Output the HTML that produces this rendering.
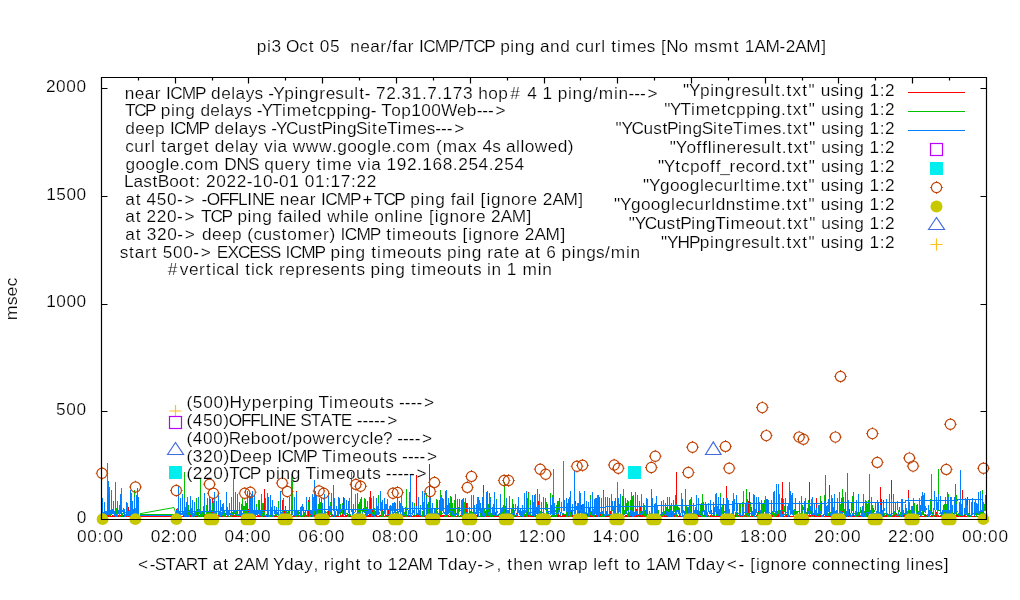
<!DOCTYPE html><html><head><meta charset="utf-8"><style>html,body{margin:0;padding:0;background:#fff;overflow:hidden;}svg{display:block;}text{font-family:"Liberation Sans",sans-serif;font-size:16.30px;fill:#000;white-space:pre;stroke:#fff;stroke-width:0.2px;}</style></head><body>
<svg width="1020" height="600" viewBox="0 0 1020 600">
<rect width="1020" height="600" fill="#fff"/>
<path d="M101.5 519.5v-6M138.5 519.5v-3M175.5 519.5v-6M212.5 519.5v-3M248.5 519.5v-6M285.5 519.5v-3M322.5 519.5v-6M359.5 519.5v-3M396.5 519.5v-6M433.5 519.5v-3M470.5 519.5v-6M507.5 519.5v-3M544.5 519.5v-6M580.5 519.5v-3M617.5 519.5v-6M654.5 519.5v-3M691.5 519.5v-6M728.5 519.5v-3M765.5 519.5v-6M802.5 519.5v-3M838.5 519.5v-6M875.5 519.5v-3M912.5 519.5v-6M949.5 519.5v-3M986.5 519.5v-6" fill="none" stroke="#000" stroke-width="1.2"/>
<path d="M102.5 517V512M103.5 517V516M104.5 517V515M105.5 517V516M106.5 517V515M107.5 517V515M108.5 517V515M109.5 517V516M110.5 517V515M111.5 517V516M112.5 517V515M113.5 517V515M114.5 517V515M115.5 517V516M116.5 517V516M117.5 517V516M118.5 517V515M119.5 517V515M120.5 517V515M121.5 517V500M122.5 517V515M123.5 517V515M124.5 517V515M125.5 517V516M126.5 517V516M127.5 517V515M128.5 517V507M129.5 517V516M130.5 517V516M131.5 517V516M132.5 517V515M133.5 517V514M134.5 517V511M135.5 517V515M136.5 517V510M137.5 517V515M138.5 517V516M176.5 517V509M177.5 517V516M178.5 517V516M179.5 517V516M180.5 517V515M181.5 517V516M182.5 517V516M183.5 517V515M184.5 517V492M185.5 517V515M186.5 517V516M187.5 517V515M188.5 517V516M189.5 517V515M190.5 517V515M191.5 517V516M192.5 517V516M193.5 517V516M194.5 517V507M195.5 517V516M196.5 517V515M197.5 517V509M198.5 517V516M199.5 517V515M200.5 517V515M201.5 517V515M202.5 517V515M203.5 517V515M204.5 517V515M205.5 517V515M206.5 517V515M207.5 517V515M208.5 517V516M209.5 517V510M210.5 517V513M211.5 517V515M212.5 517V498M213.5 517V515M214.5 517V497M215.5 517V516M216.5 517V515M217.5 517V516M218.5 517V515M219.5 517V515M220.5 517V515M221.5 517V516M222.5 517V516M223.5 517V515M224.5 517V516M225.5 517V515M226.5 517V516M227.5 517V515M228.5 517V516M229.5 517V516M230.5 517V515M231.5 517V515M232.5 517V516M233.5 517V516M234.5 517V515M235.5 517V515M236.5 517V516M237.5 517V515M238.5 517V515M239.5 517V516M240.5 517V515M241.5 517V515M242.5 517V515M243.5 517V515M244.5 517V515M245.5 517V515M246.5 517V516M247.5 517V515M248.5 517V509M249.5 517V516M250.5 517V515M251.5 517V516M252.5 517V515M253.5 517V515M254.5 517V515M255.5 517V516M256.5 517V516M257.5 517V516M258.5 517V515M259.5 517V516M260.5 517V515M261.5 517V497M262.5 517V515M263.5 517V516M264.5 517V489M265.5 517V515M266.5 517V515M267.5 517V515M268.5 517V515M269.5 517V515M270.5 517V516M271.5 517V515M272.5 517V516M273.5 517V516M274.5 517V515M275.5 517V515M276.5 517V515M277.5 517V516M278.5 517V515M279.5 517V516M280.5 517V516M281.5 517V515M282.5 517V500M283.5 517V515M284.5 517V511M285.5 517V506M286.5 517V515M287.5 517V516M288.5 517V515M289.5 517V515M290.5 517V515M291.5 517V515M292.5 517V516M293.5 517V515M294.5 517V516M295.5 517V515M296.5 517V491M297.5 517V515M298.5 517V515M299.5 517V516M300.5 517V515M301.5 517V515M302.5 517V515M303.5 517V515M304.5 517V516M305.5 517V515M306.5 517V515M307.5 517V516M308.5 517V500M309.5 517V515M310.5 517V511M311.5 517V513M312.5 517V514M313.5 517V516M314.5 517V515M315.5 517V515M316.5 517V515M317.5 517V516M318.5 517V516M319.5 517V515M320.5 517V516M321.5 517V516M322.5 517V516M323.5 517V515M324.5 517V516M325.5 517V515M326.5 517V515M327.5 517V515M328.5 517V501M329.5 517V515M330.5 517V516M331.5 517V516M332.5 517V515M333.5 517V515M334.5 517V514M335.5 517V515M336.5 517V516M337.5 517V516M338.5 517V515M339.5 517V516M340.5 517V515M341.5 517V516M342.5 517V509M343.5 517V497M344.5 517V516M345.5 517V515M346.5 517V515M347.5 517V515M348.5 517V516M349.5 517V515M350.5 517V514M351.5 517V516M352.5 517V510M353.5 517V515M354.5 517V515M355.5 517V515M356.5 517V515M357.5 517V507M358.5 517V515M359.5 517V515M360.5 517V515M361.5 517V516M362.5 517V516M363.5 517V515M364.5 517V515M365.5 517V514M366.5 517V509M367.5 517V514M368.5 517V515M369.5 517V514M370.5 517V491M371.5 517V515M372.5 517V509M373.5 517V515M374.5 517V512M375.5 517V515M376.5 517V515M377.5 517V516M378.5 517V516M379.5 517V516M380.5 517V515M381.5 517V515M382.5 517V505M383.5 517V515M384.5 517V516M385.5 517V515M386.5 517V515M387.5 517V512M388.5 517V509M389.5 517V511M390.5 517V515M391.5 517V516M392.5 517V515M393.5 517V513M394.5 517V515M395.5 517V512M396.5 517V515M397.5 517V511M398.5 517V513M399.5 517V516M400.5 517V515M401.5 517V516M402.5 517V512M403.5 517V515M404.5 517V513M405.5 517V514M406.5 517V516M407.5 517V515M408.5 517V515M409.5 517V515M410.5 517V516M411.5 517V515M412.5 517V516M413.5 517V515M414.5 517V516M415.5 517V515M416.5 517V475M417.5 517V515M418.5 517V515M419.5 517V513M420.5 517V515M421.5 517V515M422.5 517V515M423.5 517V516M424.5 517V515M425.5 517V516M426.5 517V515M427.5 517V515M428.5 517V515M429.5 517V464M430.5 517V510M431.5 517V515M432.5 517V516M433.5 517V515M434.5 517V516M435.5 517V515M436.5 517V515M437.5 517V516M438.5 517V515M439.5 517V516M440.5 517V515M441.5 517V515M442.5 517V515M443.5 517V515M444.5 517V515M445.5 517V502M446.5 517V507M447.5 517V516M448.5 517V515M449.5 517V516M450.5 517V516M451.5 517V515M452.5 517V515M453.5 517V515M454.5 517V510M455.5 517V515M456.5 517V516M457.5 517V516M458.5 517V516M459.5 517V516M460.5 517V515M461.5 517V515M462.5 517V515M463.5 517V515M464.5 517V515M465.5 517V515M466.5 517V503M467.5 517V515M468.5 517V515M469.5 517V515M470.5 517V515M471.5 517V515M472.5 517V515M473.5 517V515M474.5 517V515M475.5 517V515M476.5 517V515M477.5 517V515M478.5 517V515M479.5 517V516M480.5 517V515M481.5 517V515M482.5 517V516M483.5 517V485M484.5 517V513M485.5 517V516M486.5 517V513M487.5 517V515M488.5 517V515M489.5 517V516M490.5 517V515M491.5 517V516M492.5 517V515M493.5 517V516M494.5 517V504M495.5 517V512M496.5 517V515M497.5 517V515M498.5 517V516M499.5 517V516M500.5 517V515M501.5 517V516M502.5 517V516M503.5 517V515M504.5 517V516M505.5 517V511M506.5 517V515M507.5 517V516M508.5 517V516M509.5 517V515M510.5 517V516M511.5 517V515M512.5 517V516M513.5 517V508M514.5 517V516M515.5 517V515M516.5 517V513M517.5 517V510M518.5 517V516M519.5 517V516M520.5 517V516M521.5 517V516M522.5 517V514M523.5 517V515M524.5 517V515M525.5 517V515M526.5 517V512M527.5 517V516M528.5 517V492M529.5 517V516M530.5 517V516M531.5 517V515M532.5 517V515M533.5 517V515M534.5 517V515M535.5 517V511M536.5 517V516M537.5 517V516M538.5 517V501M539.5 517V515M540.5 517V516M541.5 517V516M542.5 517V515M543.5 517V515M544.5 517V516M545.5 517V515M546.5 517V509M547.5 517V514M548.5 517V515M549.5 517V516M550.5 517V516M551.5 517V515M552.5 517V515M553.5 517V512M554.5 517V516M555.5 517V515M556.5 517V515M557.5 517V515M558.5 517V514M559.5 517V515M560.5 517V516M561.5 517V516M562.5 517V515M563.5 517V514M564.5 517V515M565.5 517V515M566.5 517V515M567.5 517V515M568.5 517V515M569.5 517V515M570.5 517V516M571.5 517V510M572.5 517V514M573.5 517V515M574.5 517V515M575.5 517V501M576.5 517V515M577.5 517V515M578.5 517V516M579.5 517V511M580.5 517V515M581.5 517V505M582.5 517V515M583.5 517V512M584.5 517V515M585.5 517V512M586.5 517V516M587.5 517V515M588.5 517V516M589.5 517V507M590.5 517V515M591.5 517V515M592.5 517V510M593.5 517V516M594.5 517V516M595.5 517V515M596.5 517V515M597.5 517V516M598.5 517V515M599.5 517V516M600.5 517V513M601.5 517V515M602.5 517V515M603.5 517V490M604.5 517V516M605.5 517V515M606.5 517V515M607.5 517V515M608.5 517V515M609.5 517V516M610.5 517V511M611.5 517V516M612.5 517V515M613.5 517V515M614.5 517V515M615.5 517V515M616.5 517V516M617.5 517V515M618.5 517V516M619.5 517V515M620.5 517V515M621.5 517V515M622.5 517V512M623.5 517V513M624.5 517V516M625.5 517V515M626.5 517V515M627.5 517V516M628.5 517V515M629.5 517V516M630.5 517V516M631.5 517V515M632.5 517V515M633.5 517V516M634.5 517V513M635.5 517V515M636.5 517V509M637.5 517V515M638.5 517V515M639.5 517V515M640.5 517V507M641.5 517V516M642.5 517V515M643.5 517V515M644.5 517V516M645.5 517V516M646.5 517V515M647.5 517V516M648.5 517V516M649.5 517V515M650.5 517V515M651.5 517V510M652.5 517V515M653.5 517V515M654.5 517V515M655.5 517V515M656.5 517V515M657.5 517V513M658.5 517V516M659.5 517V516M660.5 517V516M661.5 517V516M662.5 517V516M663.5 517V515M664.5 517V515M665.5 517V515M666.5 517V515M667.5 517V515M668.5 517V516M669.5 517V511M670.5 517V516M671.5 517V509M672.5 517V515M673.5 517V515M674.5 517V514M675.5 517V515M676.5 517V472M677.5 517V515M678.5 517V516M679.5 517V515M680.5 517V515M681.5 517V516M682.5 517V504M683.5 517V516M684.5 517V516M685.5 517V516M686.5 517V515M687.5 517V515M688.5 517V511M689.5 517V515M690.5 517V513M691.5 517V515M692.5 517V515M693.5 517V511M694.5 517V515M695.5 517V514M696.5 517V515M697.5 517V516M698.5 517V501M699.5 517V512M700.5 517V516M701.5 517V515M702.5 517V515M703.5 517V515M704.5 517V515M705.5 517V515M706.5 517V516M707.5 517V515M708.5 517V515M709.5 517V516M710.5 517V515M711.5 517V510M712.5 517V515M713.5 517V515M714.5 517V510M715.5 517V516M716.5 517V515M717.5 517V516M718.5 517V516M719.5 517V515M720.5 517V507M721.5 517V515M722.5 517V515M723.5 517V513M724.5 517V515M725.5 517V515M726.5 517V486M727.5 517V510M728.5 517V515M729.5 517V515M730.5 517V516M731.5 517V515M732.5 517V516M733.5 517V515M734.5 517V515M735.5 517V515M736.5 517V510M737.5 517V516M738.5 517V515M739.5 517V515M740.5 517V509M741.5 517V515M742.5 517V512M743.5 517V515M744.5 517V515M745.5 517V515M746.5 517V516M747.5 517V515M748.5 517V501M749.5 517V492M750.5 517V516M751.5 517V516M752.5 517V516M753.5 517V516M754.5 517V516M755.5 517V516M756.5 517V515M757.5 517V515M758.5 517V510M759.5 517V516M760.5 517V515M761.5 517V515M762.5 517V516M763.5 517V509M764.5 517V516M765.5 517V516M766.5 517V516M767.5 517V515M768.5 517V516M769.5 517V515M770.5 517V515M771.5 517V515M772.5 517V515M773.5 517V515M774.5 517V516M775.5 517V515M776.5 517V509M777.5 517V515M778.5 517V498M779.5 517V515M780.5 517V516M781.5 517V515M782.5 517V482M783.5 517V515M784.5 517V516M785.5 517V515M786.5 517V515M787.5 517V513M788.5 517V513M789.5 517V516M790.5 517V516M791.5 517V516M792.5 517V516M793.5 517V515M794.5 517V516M795.5 517V516M796.5 517V515M797.5 517V516M798.5 517V516M799.5 517V515M800.5 517V516M801.5 517V515M802.5 517V515M803.5 517V515M804.5 517V515M805.5 517V516M806.5 517V515M807.5 517V516M808.5 517V515M809.5 517V482M810.5 517V515M811.5 517V515M812.5 517V515M813.5 517V515M814.5 517V510M815.5 517V515M816.5 517V498M817.5 517V515M818.5 517V516M819.5 517V516M820.5 517V515M821.5 517V516M822.5 517V515M823.5 517V515M824.5 517V516M825.5 517V515M826.5 517V516M827.5 517V516M828.5 517V515M829.5 517V485M830.5 517V515M831.5 517V513M832.5 517V516M833.5 517V516M834.5 517V516M835.5 517V515M836.5 517V516M837.5 517V516M838.5 517V516M839.5 517V515M840.5 517V515M841.5 517V515M842.5 517V510M843.5 517V515M844.5 517V515M845.5 517V515M846.5 517V516M847.5 517V515M848.5 517V516M849.5 517V509M850.5 517V515M851.5 517V515M852.5 517V515M853.5 517V515M854.5 517V515M855.5 517V516M856.5 517V516M857.5 517V515M858.5 517V516M859.5 517V515M860.5 517V515M861.5 517V515M862.5 517V515M863.5 517V511M864.5 517V516M865.5 517V515M866.5 517V515M867.5 517V516M868.5 517V516M869.5 517V515M870.5 517V515M871.5 517V515M872.5 517V515M873.5 517V515M874.5 517V515M875.5 517V515M876.5 517V515M877.5 517V511M878.5 517V515M879.5 517V512M880.5 517V487M881.5 517V499M882.5 517V515M883.5 517V500M884.5 517V515M885.5 517V515M886.5 517V515M887.5 517V515M888.5 517V515M889.5 517V515M890.5 517V516M891.5 517V480M892.5 517V516M893.5 517V510M894.5 517V515M895.5 517V509M896.5 517V514M897.5 517V515M898.5 517V515M899.5 517V516M900.5 517V516M901.5 517V510M902.5 517V516M903.5 517V513M904.5 517V515M905.5 517V515M906.5 517V515M907.5 517V515M908.5 517V490M909.5 517V515M910.5 517V515M911.5 517V515M912.5 517V515M913.5 517V516M914.5 517V516M915.5 517V516M916.5 517V515M917.5 517V514M918.5 517V516M919.5 517V516M920.5 517V515M921.5 517V516M922.5 517V516M923.5 517V516M924.5 517V516M925.5 517V515M926.5 517V515M927.5 517V516M928.5 517V516M929.5 517V516M930.5 517V516M931.5 517V515M932.5 517V515M933.5 517V515M934.5 517V515M935.5 517V515M936.5 517V512M937.5 517V516M938.5 517V515M939.5 517V516M940.5 517V516M941.5 517V515M942.5 517V515M943.5 517V515M944.5 517V515M945.5 517V515M946.5 517V515M947.5 517V516M948.5 517V515M949.5 517V515M950.5 517V510M951.5 517V516M952.5 517V515M953.5 517V513M954.5 517V515M955.5 517V516M956.5 517V515M957.5 517V515M958.5 517V515M959.5 517V516M960.5 517V515M961.5 517V515M962.5 517V490M963.5 517V515M964.5 517V515M965.5 517V516M966.5 517V516M967.5 517V497M968.5 517V516M969.5 517V516M970.5 517V515M971.5 517V511M972.5 517V516M973.5 517V516M974.5 517V516M975.5 517V516M976.5 517V516M977.5 517V516M978.5 517V516M979.5 517V515M980.5 517V513M981.5 517V515M982.5 517V515M983.5 517V515M984.5 517V516M985.5 517V515" stroke="#ff0000" stroke-width="1" fill="none" shape-rendering="crispEdges"/>
<path d="M102.5 516V515M103.5 515V512M104.5 516V503M105.5 517V511M106.5 517V516M107.5 512V463M108.5 515V514M109.5 517V487M110.5 516V513M111.5 515V490M112.5 514V513M113.5 516V515M114.5 516V515M115.5 516V499M116.5 517V508M117.5 517V501M118.5 513V512M119.5 517V505M120.5 517V516M121.5 514V488M122.5 517V513M123.5 514V508M124.5 516V515M125.5 517V514M126.5 513V506M127.5 517V503M128.5 513V512M129.5 517V510M130.5 515V514M131.5 516V493M132.5 514V501M133.5 517V515M134.5 517V490M135.5 515V508M136.5 516V512M137.5 515V499M138.5 516V505M176.5 515V513M177.5 517V511M178.5 517V506M179.5 515V512M180.5 516V512M181.5 515V513M182.5 514V504M183.5 515V512M184.5 511V472M185.5 512V507M186.5 516V515M187.5 512V497M188.5 516V505M189.5 517V510M190.5 515V500M191.5 513V508M192.5 515V513M193.5 516V514M194.5 517V506M195.5 516V515M196.5 515V498M197.5 515V513M198.5 517V507M199.5 513V509M200.5 517V478M201.5 516V512M202.5 517V512M203.5 516V509M204.5 515V514M205.5 515V514M206.5 517V505M207.5 514V511M208.5 516V512M209.5 516V515M210.5 516V506M211.5 515V513M212.5 511V503M213.5 517V501M214.5 517V505M215.5 514V512M216.5 516V501M217.5 516V515M218.5 515V503M219.5 517V516M220.5 516V502M221.5 516V512M222.5 516V514M223.5 517V503M224.5 517V511M225.5 517V513M226.5 514V511M227.5 516V512M228.5 517V512M229.5 517V516M230.5 517V516M231.5 517V504M232.5 516V512M233.5 512V478M234.5 514V513M235.5 516V494M236.5 516V510M237.5 517V505M238.5 516V515M239.5 512V502M240.5 513V511M241.5 517V511M242.5 511V498M243.5 514V512M244.5 516V506M245.5 515V510M246.5 515V503M247.5 517V504M248.5 515V514M249.5 514V513M250.5 515V513M251.5 516V494M252.5 517V504M253.5 516V512M254.5 513V507M255.5 516V512M256.5 511V504M257.5 515V514M258.5 512V500M259.5 516V500M260.5 516V512M261.5 516V513M262.5 517V503M263.5 516V513M264.5 515V512M265.5 516V515M266.5 515V514M267.5 515V494M268.5 511V499M269.5 517V515M270.5 517V511M271.5 512V507M272.5 514V513M273.5 517V516M274.5 516V515M275.5 516V511M276.5 516V507M277.5 515V513M278.5 511V501M279.5 517V516M280.5 517V508M281.5 517V516M282.5 514V511M283.5 515V508M284.5 517V516M285.5 517V516M286.5 517V511M287.5 517V513M288.5 516V511M289.5 517V516M290.5 517V514M291.5 513V474M292.5 515V476M293.5 516V515M294.5 516V500M295.5 515V513M296.5 517V503M297.5 512V511M298.5 516V510M299.5 517V515M300.5 517V510M301.5 515V506M302.5 517V515M303.5 517V515M304.5 516V512M305.5 517V511M306.5 517V516M307.5 517V511M308.5 511V502M309.5 517V516M310.5 517V515M311.5 515V511M312.5 517V509M313.5 517V497M314.5 515V503M315.5 514V513M316.5 516V515M317.5 516V515M318.5 516V504M319.5 517V516M320.5 515V502M321.5 517V516M322.5 515V513M323.5 514V513M324.5 515V508M325.5 516V512M326.5 513V512M327.5 516V515M328.5 516V515M329.5 515V506M330.5 515V502M331.5 514V513M332.5 517V516M333.5 516V515M334.5 515V507M335.5 515V511M336.5 516V515M337.5 516V514M338.5 514V512M339.5 517V516M340.5 515V504M341.5 516V515M342.5 514V503M343.5 516V513M344.5 515V508M345.5 515V511M346.5 514V513M347.5 517V516M348.5 517V514M349.5 514V498M350.5 516V515M351.5 512V506M352.5 516V515M353.5 513V507M354.5 517V516M355.5 511V494M356.5 517V516M357.5 513V511M358.5 516V504M359.5 517V515M360.5 517V499M361.5 515V514M362.5 517V509M363.5 517V514M364.5 513V498M365.5 517V515M366.5 515V507M367.5 516V515M368.5 512V511M369.5 514V502M370.5 514V513M371.5 514V498M372.5 516V512M373.5 515V496M374.5 515V508M375.5 517V516M376.5 514V513M377.5 515V506M378.5 515V495M379.5 514V512M380.5 517V516M381.5 516V502M382.5 517V511M383.5 517V516M384.5 512V503M385.5 516V504M386.5 517V516M387.5 516V499M388.5 517V516M389.5 517V506M390.5 517V513M391.5 511V506M392.5 515V511M393.5 511V503M394.5 516V515M395.5 517V507M396.5 513V512M397.5 515V502M398.5 515V511M399.5 512V509M400.5 515V514M401.5 512V496M402.5 516V511M403.5 512V508M404.5 516V512M405.5 513V512M406.5 517V489M407.5 517V516M408.5 516V514M409.5 514V507M410.5 516V513M411.5 516V515M412.5 515V505M413.5 513V512M414.5 516V503M415.5 517V516M416.5 515V507M417.5 516V514M418.5 514V513M419.5 516V515M420.5 511V505M421.5 517V516M422.5 517V511M423.5 517V502M424.5 515V513M425.5 516V515M426.5 512V493M427.5 517V510M428.5 517V502M429.5 515V506M430.5 517V515M431.5 517V508M432.5 517V511M433.5 515V513M434.5 516V512M435.5 517V509M436.5 517V499M437.5 517V511M438.5 517V516M439.5 516V505M440.5 515V490M441.5 516V495M442.5 514V513M443.5 512V499M444.5 517V516M445.5 517V513M446.5 517V511M447.5 517V507M448.5 512V510M449.5 515V514M450.5 516V496M451.5 517V513M452.5 517V503M453.5 517V516M454.5 517V500M455.5 517V516M456.5 515V514M457.5 512V510M458.5 517V507M459.5 512V510M460.5 517V516M461.5 517V507M462.5 516V500M463.5 517V511M464.5 517V502M465.5 517V512M466.5 515V514M467.5 517V503M468.5 514V513M469.5 517V507M470.5 516V511M471.5 517V495M472.5 516V512M473.5 516V515M474.5 517V509M475.5 516V512M476.5 513V511M477.5 515V497M478.5 517V514M479.5 511V500M480.5 517V511M481.5 516V509M482.5 517V515M483.5 516V509M484.5 517V508M485.5 517V515M486.5 516V502M487.5 517V516M488.5 516V504M489.5 516V513M490.5 517V497M491.5 516V514M492.5 517V510M493.5 515V504M494.5 516V513M495.5 516V515M496.5 513V499M497.5 513V512M498.5 516V515M499.5 514V513M500.5 515V513M501.5 515V509M502.5 517V512M503.5 517V514M504.5 516V482M505.5 517V515M506.5 516V515M507.5 517V510M508.5 516V514M509.5 515V503M510.5 516V513M511.5 517V516M512.5 517V499M513.5 515V514M514.5 517V515M515.5 516V515M516.5 515V514M517.5 517V516M518.5 512V499M519.5 514V513M520.5 517V511M521.5 516V514M522.5 515V506M523.5 517V516M524.5 516V514M525.5 513V510M526.5 517V498M527.5 517V515M528.5 512V493M529.5 517V515M530.5 516V500M531.5 513V512M532.5 516V509M533.5 511V502M534.5 517V516M535.5 511V494M536.5 516V515M537.5 512V508M538.5 515V513M539.5 516V494M540.5 516V511M541.5 516V515M542.5 517V516M543.5 515V500M544.5 517V515M545.5 517V516M546.5 515V502M547.5 512V507M548.5 516V514M549.5 512V511M550.5 511V493M551.5 516V515M552.5 517V495M553.5 516V469M554.5 517V512M555.5 514V513M556.5 517V505M557.5 515V514M558.5 513V501M559.5 517V516M560.5 513V512M561.5 513V502M562.5 515V514M563.5 511V461M564.5 515V514M565.5 515V514M566.5 517V502M567.5 517V503M568.5 513V510M569.5 517V497M570.5 517V512M571.5 517V514M572.5 514V509M573.5 511V510M574.5 516V514M575.5 517V504M576.5 517V516M577.5 517V503M578.5 516V514M579.5 511V491M580.5 512V510M581.5 516V509M582.5 516V515M583.5 515V513M584.5 512V509M585.5 517V512M586.5 516V509M587.5 515V513M588.5 517V503M589.5 515V512M590.5 515V495M591.5 516V513M592.5 516V504M593.5 516V509M594.5 517V513M595.5 514V498M596.5 514V513M597.5 515V495M598.5 513V511M599.5 516V511M600.5 517V516M601.5 516V509M602.5 517V513M603.5 516V507M604.5 517V516M605.5 516V505M606.5 516V515M607.5 515V503M608.5 516V515M609.5 513V512M610.5 516V514M611.5 513V510M612.5 511V505M613.5 516V507M614.5 517V516M615.5 517V498M616.5 514V513M617.5 511V482M618.5 517V516M619.5 512V504M620.5 517V516M621.5 517V516M622.5 515V496M623.5 515V489M624.5 514V510M625.5 514V513M626.5 513V503M627.5 516V513M628.5 517V501M629.5 516V514M630.5 516V500M631.5 515V512M632.5 517V496M633.5 516V505M634.5 513V512M635.5 516V515M636.5 515V513M637.5 513V509M638.5 517V516M639.5 515V502M640.5 515V511M641.5 516V494M642.5 515V514M643.5 514V508M644.5 516V505M645.5 517V513M646.5 517V510M647.5 515V499M648.5 517V516M649.5 517V514M650.5 517V516M651.5 513V489M652.5 516V505M653.5 516V515M654.5 515V512M655.5 515V503M656.5 517V512M657.5 516V506M658.5 515V510M659.5 516V515M660.5 516V514M661.5 517V503M662.5 516V512M663.5 517V500M664.5 515V511M665.5 516V515M666.5 516V507M667.5 516V515M668.5 515V509M669.5 516V515M670.5 515V506M671.5 516V515M672.5 516V515M673.5 516V514M674.5 512V505M675.5 517V512M676.5 517V504M677.5 517V516M678.5 513V507M679.5 515V513M680.5 514V513M681.5 512V493M682.5 515V514M683.5 513V510M684.5 516V515M685.5 517V514M686.5 514V506M687.5 517V516M688.5 515V509M689.5 517V512M690.5 515V499M691.5 512V511M692.5 515V513M693.5 513V504M694.5 517V515M695.5 516V507M696.5 516V512M697.5 516V511M698.5 515V503M699.5 516V515M700.5 515V505M701.5 517V511M702.5 517V494M703.5 517V516M704.5 517V513M705.5 513V502M706.5 516V513M707.5 516V512M708.5 517V516M709.5 517V516M710.5 514V513M711.5 516V515M712.5 516V515M713.5 513V512M714.5 516V512M715.5 512V494M716.5 516V514M717.5 515V506M718.5 513V512M719.5 512V509M720.5 515V493M721.5 514V511M722.5 514V504M723.5 517V514M724.5 513V511M725.5 515V512M726.5 513V512M727.5 516V498M728.5 517V510M729.5 516V509M730.5 517V514M731.5 515V514M732.5 515V511M733.5 515V493M734.5 517V516M735.5 514V512M736.5 517V512M737.5 511V504M738.5 517V516M739.5 515V514M740.5 515V504M741.5 517V516M742.5 513V502M743.5 517V491M744.5 517V516M745.5 517V505M746.5 516V489M747.5 517V499M748.5 517V513M749.5 517V515M750.5 512V502M751.5 515V514M752.5 516V515M753.5 511V494M754.5 517V513M755.5 515V509M756.5 517V516M757.5 516V512M758.5 517V512M759.5 511V506M760.5 515V512M761.5 517V503M762.5 515V503M763.5 517V516M764.5 512V500M765.5 516V496M766.5 515V514M767.5 516V512M768.5 515V514M769.5 513V512M770.5 514V513M771.5 516V508M772.5 515V512M773.5 517V509M774.5 517V513M775.5 517V511M776.5 516V504M777.5 516V512M778.5 514V509M779.5 517V494M780.5 516V511M781.5 517V508M782.5 511V510M783.5 515V499M784.5 512V506M785.5 517V515M786.5 515V514M787.5 515V506M788.5 516V515M789.5 516V515M790.5 512V511M791.5 514V495M792.5 515V505M793.5 517V512M794.5 515V509M795.5 516V502M796.5 516V511M797.5 517V511M798.5 512V511M799.5 514V502M800.5 514V513M801.5 517V513M802.5 517V505M803.5 515V514M804.5 517V515M805.5 516V515M806.5 517V512M807.5 517V508M808.5 512V500M809.5 515V502M810.5 514V511M811.5 517V499M812.5 517V516M813.5 517V513M814.5 513V512M815.5 516V510M816.5 514V511M817.5 517V516M818.5 516V511M819.5 515V510M820.5 515V496M821.5 517V515M822.5 517V516M823.5 517V516M824.5 512V495M825.5 517V516M826.5 515V513M827.5 516V505M828.5 516V513M829.5 511V507M830.5 515V512M831.5 515V495M832.5 513V512M833.5 514V507M834.5 515V509M835.5 512V511M836.5 512V511M837.5 515V498M838.5 515V513M839.5 516V502M840.5 513V504M841.5 515V514M842.5 511V489M843.5 517V514M844.5 517V509M845.5 517V514M846.5 513V512M847.5 517V516M848.5 515V501M849.5 517V516M850.5 517V513M851.5 517V515M852.5 511V496M853.5 515V510M854.5 514V513M855.5 517V511M856.5 517V501M857.5 517V516M858.5 516V506M859.5 515V514M860.5 513V507M861.5 516V512M862.5 515V514M863.5 516V498M864.5 514V511M865.5 517V511M866.5 517V501M867.5 516V511M868.5 516V500M869.5 513V474M870.5 517V510M871.5 517V511M872.5 517V505M873.5 513V511M874.5 512V510M875.5 517V513M876.5 517V516M877.5 516V500M878.5 517V512M879.5 515V512M880.5 517V516M881.5 515V512M882.5 517V514M883.5 512V507M884.5 516V513M885.5 514V513M886.5 515V506M887.5 517V513M888.5 517V515M889.5 517V494M890.5 517V516M891.5 517V499M892.5 516V515M893.5 514V512M894.5 515V511M895.5 516V513M896.5 514V513M897.5 516V514M898.5 516V510M899.5 516V514M900.5 517V512M901.5 515V499M902.5 515V507M903.5 515V512M904.5 515V514M905.5 517V504M906.5 516V512M907.5 516V511M908.5 515V502M909.5 516V502M910.5 515V510M911.5 516V506M912.5 516V511M913.5 515V512M914.5 517V503M915.5 516V515M916.5 517V505M917.5 514V513M918.5 516V511M919.5 515V498M920.5 516V515M921.5 511V496M922.5 515V510M923.5 515V495M924.5 516V514M925.5 513V506M926.5 517V516M927.5 515V514M928.5 516V507M929.5 517V512M930.5 515V499M931.5 512V474M932.5 516V512M933.5 517V508M934.5 517V516M935.5 515V514M936.5 515V514M937.5 517V502M938.5 511V469M939.5 514V513M940.5 516V515M941.5 515V514M942.5 517V513M943.5 515V509M944.5 516V504M945.5 513V512M946.5 516V504M947.5 517V515M948.5 517V494M949.5 517V516M950.5 512V498M951.5 514V497M952.5 515V512M953.5 516V515M954.5 517V514M955.5 516V515M956.5 515V495M957.5 512V511M958.5 516V513M959.5 517V512M960.5 516V515M961.5 516V504M962.5 516V510M963.5 517V516M964.5 515V512M965.5 516V498M966.5 514V512M967.5 517V505M968.5 517V513M969.5 516V515M970.5 517V516M971.5 517V502M972.5 515V509M973.5 514V513M974.5 514V512M975.5 515V499M976.5 517V513M977.5 515V504M978.5 515V511M979.5 516V512M980.5 516V509M981.5 516V515M982.5 516V490M983.5 513V502M984.5 511V504M985.5 515V514" stroke="#00c000" stroke-width="1" fill="none" shape-rendering="crispEdges"/>
<path d="M102.5 516V498M103.5 515V513M104.5 514V502M105.5 514V513M106.5 516V511M107.5 515V493M108.5 515V481M109.5 517V494M110.5 514V510M111.5 515V495M112.5 514V509M113.5 514V501M114.5 516V511M115.5 517V482M116.5 517V514M117.5 512V505M118.5 514V510M119.5 512V511M120.5 514V494M121.5 516V509M122.5 512V510M123.5 510V508M124.5 517V509M125.5 513V512M126.5 516V502M127.5 515V513M128.5 516V511M129.5 517V513M130.5 516V490M131.5 517V513M132.5 516V501M133.5 514V509M134.5 517V497M135.5 515V513M136.5 516V495M137.5 517V488M138.5 514V497M176.5 516V510M177.5 511V508M178.5 514V486M179.5 516V511M180.5 516V498M181.5 515V513M182.5 515V494M183.5 513V511M184.5 517V498M185.5 516V510M186.5 517V502M187.5 516V508M188.5 517V515M189.5 511V510M190.5 514V496M191.5 517V510M192.5 517V500M193.5 515V513M194.5 516V502M195.5 515V512M196.5 516V515M197.5 516V510M198.5 512V497M199.5 514V513M200.5 514V512M201.5 515V513M202.5 512V511M203.5 516V506M204.5 514V493M205.5 517V514M206.5 516V515M207.5 515V498M208.5 516V515M209.5 516V497M210.5 512V499M211.5 517V510M212.5 515V513M213.5 513V504M214.5 517V492M215.5 516V515M216.5 513V501M217.5 512V511M218.5 515V492M219.5 517V511M220.5 517V500M221.5 511V507M222.5 515V504M223.5 514V507M224.5 513V512M225.5 514V513M226.5 515V492M227.5 514V507M228.5 516V510M229.5 515V503M230.5 515V513M231.5 514V497M232.5 515V514M233.5 516V497M234.5 513V511M235.5 516V492M236.5 515V514M237.5 515V494M238.5 515V514M239.5 517V503M240.5 516V510M241.5 517V504M242.5 516V513M243.5 515V506M244.5 516V513M245.5 515V501M246.5 516V515M247.5 511V491M248.5 516V512M249.5 515V493M250.5 515V496M251.5 517V511M252.5 516V491M253.5 516V510M254.5 517V495M255.5 515V510M256.5 515V507M257.5 517V511M258.5 514V511M259.5 511V504M260.5 516V511M261.5 517V494M262.5 513V512M263.5 514V503M264.5 516V515M265.5 510V498M266.5 517V515M267.5 514V493M268.5 517V497M269.5 516V515M270.5 515V495M271.5 517V511M272.5 517V500M273.5 516V515M274.5 514V506M275.5 512V511M276.5 514V507M277.5 514V512M278.5 516V508M279.5 515V514M280.5 515V491M281.5 516V512M282.5 514V512M283.5 516V498M284.5 515V514M285.5 514V508M286.5 513V512M287.5 516V512M288.5 515V514M289.5 515V497M290.5 516V515M291.5 517V507M292.5 515V513M293.5 516V515M294.5 516V497M295.5 517V511M296.5 515V492M297.5 517V511M298.5 515V514M299.5 514V512M300.5 516V507M301.5 516V513M302.5 511V504M303.5 516V507M304.5 513V512M305.5 517V511M306.5 511V497M307.5 515V511M308.5 511V510M309.5 516V497M310.5 514V510M311.5 514V511M312.5 517V494M313.5 516V514M314.5 511V480M315.5 517V491M316.5 515V495M317.5 516V510M318.5 516V514M319.5 515V498M320.5 515V513M321.5 514V497M322.5 515V503M323.5 516V515M324.5 515V494M325.5 514V511M326.5 516V514M327.5 516V511M328.5 511V493M329.5 512V510M330.5 512V506M331.5 517V493M332.5 515V514M333.5 511V485M334.5 517V498M335.5 516V513M336.5 511V506M337.5 516V510M338.5 516V497M339.5 514V498M340.5 512V510M341.5 513V510M342.5 510V505M343.5 514V513M344.5 515V498M345.5 511V510M346.5 510V500M347.5 515V513M348.5 513V501M349.5 516V512M350.5 515V514M351.5 512V472M352.5 516V510M353.5 516V504M354.5 513V512M355.5 512V502M356.5 514V513M357.5 514V493M358.5 515V512M359.5 515V502M360.5 515V514M361.5 511V497M362.5 515V512M363.5 512V508M364.5 512V511M365.5 516V499M366.5 516V511M367.5 516V501M368.5 514V510M369.5 510V497M370.5 514V510M371.5 517V498M372.5 516V514M373.5 515V499M374.5 517V515M375.5 515V511M376.5 515V498M377.5 514V513M378.5 515V503M379.5 516V515M380.5 511V491M381.5 514V507M382.5 510V500M383.5 516V511M384.5 514V498M385.5 517V515M386.5 510V504M387.5 515V514M388.5 515V514M389.5 517V513M390.5 515V505M391.5 517V514M392.5 517V503M393.5 513V512M394.5 513V502M395.5 516V503M396.5 511V510M397.5 512V498M398.5 517V511M399.5 511V501M400.5 515V503M401.5 516V514M402.5 516V506M403.5 517V512M404.5 515V514M405.5 517V507M406.5 511V510M407.5 510V508M408.5 516V510M409.5 510V492M410.5 517V474M411.5 514V513M412.5 515V502M413.5 513V510M414.5 515V506M415.5 516V515M416.5 514V506M417.5 516V513M418.5 515V497M419.5 514V510M420.5 516V506M421.5 516V515M422.5 510V491M423.5 516V511M424.5 516V493M425.5 517V515M426.5 517V498M427.5 514V504M428.5 515V514M429.5 515V494M430.5 516V497M431.5 516V515M432.5 517V503M433.5 516V515M434.5 514V508M435.5 517V511M436.5 517V513M437.5 510V500M438.5 515V513M439.5 517V500M440.5 511V497M441.5 515V514M442.5 511V498M443.5 513V512M444.5 514V512M445.5 514V491M446.5 515V490M447.5 514V505M448.5 514V498M449.5 513V503M450.5 512V511M451.5 516V497M452.5 515V511M453.5 516V508M454.5 516V514M455.5 516V494M456.5 515V513M457.5 516V499M458.5 515V514M459.5 511V499M460.5 511V510M461.5 511V500M462.5 515V499M463.5 516V498M464.5 516V515M465.5 515V498M466.5 515V512M467.5 517V503M468.5 517V514M469.5 514V511M470.5 515V513M471.5 515V497M472.5 517V515M473.5 516V495M474.5 515V505M475.5 516V514M476.5 514V504M477.5 515V514M478.5 517V497M479.5 513V512M480.5 513V503M481.5 516V510M482.5 516V497M483.5 511V493M484.5 517V513M485.5 517V511M486.5 510V492M487.5 517V491M488.5 515V512M489.5 517V493M490.5 513V498M491.5 514V513M492.5 515V507M493.5 516V512M494.5 515V492M495.5 513V512M496.5 516V500M497.5 512V511M498.5 515V514M499.5 515V514M500.5 514V494M501.5 514V511M502.5 512V507M503.5 516V505M504.5 514V513M505.5 515V506M506.5 515V498M507.5 516V514M508.5 516V510M509.5 516V496M510.5 516V515M511.5 516V508M512.5 516V513M513.5 517V504M514.5 515V510M515.5 511V504M516.5 516V514M517.5 515V506M518.5 513V497M519.5 515V510M520.5 516V508M521.5 515V511M522.5 517V505M523.5 517V510M524.5 514V493M525.5 516V514M526.5 512V491M527.5 516V498M528.5 515V512M529.5 516V512M530.5 514V505M531.5 516V515M532.5 516V495M533.5 515V510M534.5 516V495M535.5 515V512M536.5 514V507M537.5 515V489M538.5 515V505M539.5 511V510M540.5 515V514M541.5 517V502M542.5 513V512M543.5 510V497M544.5 515V514M545.5 510V498M546.5 512V511M547.5 514V504M548.5 517V511M549.5 514V513M550.5 515V498M551.5 514V505M552.5 515V497M553.5 515V510M554.5 515V503M555.5 512V510M556.5 514V513M557.5 514V501M558.5 514V510M559.5 512V498M560.5 516V512M561.5 511V506M562.5 514V513M563.5 515V513M564.5 511V500M565.5 515V514M566.5 512V498M567.5 515V512M568.5 516V499M569.5 514V501M570.5 512V491M571.5 516V515M572.5 515V504M573.5 511V510M574.5 516V471M575.5 515V511M576.5 510V506M577.5 516V511M578.5 515V503M579.5 516V514M580.5 513V493M581.5 516V513M582.5 517V504M583.5 516V504M584.5 516V491M585.5 515V514M586.5 514V501M587.5 515V514M588.5 516V502M589.5 517V514M590.5 512V499M591.5 514V511M592.5 515V492M593.5 517V514M594.5 515V499M595.5 513V512M596.5 515V498M597.5 516V510M598.5 517V495M599.5 516V497M600.5 514V512M601.5 515V498M602.5 514V511M603.5 517V491M604.5 516V514M605.5 514V497M606.5 516V511M607.5 514V497M608.5 515V514M609.5 516V498M610.5 515V514M611.5 516V494M612.5 510V501M613.5 516V514M614.5 516V501M615.5 515V498M616.5 515V514M617.5 513V497M618.5 515V498M619.5 515V514M620.5 517V494M621.5 515V514M622.5 517V515M623.5 511V499M624.5 515V514M625.5 513V498M626.5 514V511M627.5 511V500M628.5 512V510M629.5 514V512M630.5 516V510M631.5 515V492M632.5 517V511M633.5 517V495M634.5 516V512M635.5 515V492M636.5 515V511M637.5 516V495M638.5 515V514M639.5 515V501M640.5 515V513M641.5 514V497M642.5 514V511M643.5 517V503M644.5 511V510M645.5 514V510M646.5 514V498M647.5 515V510M648.5 515V514M649.5 516V511M650.5 514V513M651.5 513V491M652.5 516V498M653.5 517V514M654.5 514V504M655.5 516V512M656.5 517V496M657.5 514V511M658.5 515V514M659.5 516V515M660.5 515V514M661.5 517V501M662.5 514V512M663.5 515V508M664.5 515V514M665.5 515V503M666.5 515V511M667.5 515V497M668.5 517V512M669.5 515V497M670.5 517V510M671.5 514V503M672.5 517V511M673.5 517V500M674.5 515V513M675.5 513V495M676.5 514V510M677.5 512V506M678.5 514V510M679.5 515V508M680.5 516V513M681.5 513V511M682.5 517V499M683.5 516V515M684.5 517V511M685.5 516V489M686.5 517V515M687.5 517V507M688.5 516V507M689.5 514V500M690.5 514V512M691.5 514V497M692.5 515V514M693.5 511V503M694.5 517V510M695.5 514V508M696.5 514V495M697.5 517V510M698.5 515V498M699.5 517V511M700.5 516V515M701.5 511V503M702.5 514V511M703.5 512V502M704.5 515V510M705.5 517V513M706.5 517V505M707.5 516V515M708.5 512V503M709.5 514V511M710.5 514V500M711.5 517V512M712.5 514V513M713.5 516V502M714.5 515V507M715.5 512V511M716.5 514V493M717.5 516V511M718.5 516V497M719.5 515V510M720.5 516V497M721.5 517V507M722.5 516V515M723.5 513V498M724.5 513V512M725.5 516V505M726.5 514V498M727.5 515V513M728.5 517V500M729.5 514V513M730.5 516V515M731.5 514V513M732.5 515V501M733.5 514V503M734.5 511V499M735.5 515V514M736.5 513V495M737.5 517V512M738.5 514V513M739.5 517V504M740.5 516V513M741.5 516V515M742.5 516V507M743.5 514V513M744.5 513V512M745.5 516V503M746.5 513V502M747.5 515V514M748.5 515V514M749.5 514V505M750.5 514V513M751.5 517V507M752.5 515V511M753.5 517V496M754.5 517V495M755.5 515V514M756.5 513V497M757.5 516V514M758.5 511V497M759.5 515V502M760.5 515V510M761.5 514V500M762.5 517V514M763.5 515V503M764.5 516V515M765.5 515V511M766.5 517V499M767.5 514V499M768.5 517V500M769.5 516V515M770.5 514V513M771.5 514V500M772.5 512V511M773.5 510V492M774.5 512V491M775.5 517V515M776.5 514V484M777.5 516V511M778.5 510V484M779.5 516V510M780.5 517V510M781.5 514V498M782.5 517V514M783.5 516V510M784.5 515V514M785.5 516V498M786.5 513V512M787.5 516V513M788.5 517V504M789.5 510V482M790.5 515V491M791.5 514V511M792.5 515V493M793.5 514V510M794.5 511V510M795.5 514V498M796.5 515V514M797.5 516V515M798.5 516V515M799.5 513V501M800.5 516V515M801.5 514V496M802.5 511V510M803.5 510V507M804.5 515V501M805.5 516V498M806.5 517V515M807.5 514V510M808.5 514V511M809.5 516V505M810.5 511V506M811.5 515V511M812.5 515V497M813.5 515V513M814.5 515V504M815.5 515V514M816.5 516V508M817.5 515V513M818.5 514V505M819.5 516V505M820.5 514V511M821.5 514V501M822.5 517V515M823.5 515V514M824.5 515V501M825.5 515V475M826.5 516V506M827.5 516V515M828.5 512V499M829.5 516V497M830.5 516V513M831.5 516V515M832.5 516V498M833.5 517V511M834.5 514V494M835.5 515V512M836.5 514V510M837.5 516V514M838.5 517V513M839.5 512V492M840.5 515V511M841.5 516V498M842.5 514V512M843.5 513V497M844.5 515V514M845.5 514V492M846.5 517V511M847.5 515V473M848.5 516V500M849.5 515V514M850.5 517V514M851.5 513V502M852.5 516V513M853.5 515V492M854.5 516V515M855.5 515V514M856.5 515V500M857.5 517V512M858.5 512V494M859.5 516V512M860.5 516V515M861.5 517V510M862.5 517V506M863.5 511V494M864.5 517V513M865.5 515V500M866.5 513V512M867.5 516V504M868.5 516V512M869.5 514V495M870.5 516V510M871.5 513V497M872.5 516V513M873.5 515V508M874.5 514V513M875.5 510V503M876.5 516V511M877.5 512V500M878.5 514V502M879.5 516V515M880.5 515V505M881.5 515V512M882.5 517V510M883.5 514V504M884.5 511V508M885.5 516V515M886.5 514V499M887.5 515V514M888.5 515V514M889.5 514V498M890.5 516V514M891.5 516V513M892.5 514V513M893.5 516V494M894.5 512V511M895.5 517V503M896.5 516V515M897.5 510V501M898.5 515V512M899.5 512V507M900.5 516V515M901.5 516V515M902.5 517V499M903.5 514V510M904.5 514V513M905.5 517V511M906.5 515V508M907.5 514V512M908.5 510V498M909.5 514V511M910.5 516V515M911.5 514V513M912.5 514V506M913.5 515V498M914.5 515V511M915.5 516V515M916.5 517V513M917.5 514V504M918.5 514V512M919.5 515V514M920.5 516V505M921.5 517V512M922.5 511V492M923.5 515V510M924.5 512V493M925.5 515V514M926.5 510V508M927.5 516V515M928.5 517V505M929.5 516V510M930.5 515V511M931.5 514V504M932.5 515V514M933.5 512V511M934.5 510V491M935.5 516V510M936.5 510V497M937.5 514V513M938.5 510V494M939.5 511V510M940.5 514V496M941.5 517V512M942.5 516V510M943.5 516V505M944.5 512V510M945.5 516V497M946.5 514V510M947.5 517V492M948.5 517V497M949.5 515V510M950.5 515V497M951.5 516V515M952.5 512V505M953.5 515V514M954.5 516V497M955.5 514V484M956.5 512V504M957.5 515V514M958.5 514V513M959.5 517V502M960.5 515V470M961.5 515V512M962.5 516V499M963.5 516V515M964.5 514V508M965.5 512V510M966.5 515V499M967.5 516V515M968.5 515V514M969.5 516V500M970.5 516V515M971.5 515V514M972.5 515V498M973.5 514V513M974.5 516V502M975.5 515V511M976.5 513V503M977.5 515V514M978.5 514V492M979.5 515V511M980.5 512V491M981.5 517V510M982.5 512V494M983.5 517V510M984.5 517V513M985.5 511V495" stroke="#0080ff" stroke-width="1" fill="none" shape-rendering="crispEdges"/>
<path d="M140 516.5H176" stroke="#ff0000" stroke-width="1" fill="none" shape-rendering="crispEdges"/>
<path d="M140 515.5H176" stroke="#0080ff" stroke-width="1" fill="none" shape-rendering="crispEdges"/>
<path d="M140 514.5H176M140 513.7L174 507.5L176 514" stroke="#00c000" stroke-width="1" fill="none"/>
<path d="M176 511.5L450 508.5L530 508.5L680 505.5L750 503.5L905 502.5L905 500.5L957 500.5L957 499.5L983 499.5" stroke="#0080ff" stroke-width="1" fill="none" shape-rendering="crispEdges"/>
<circle cx="102" cy="473.3" r="5.1" fill="none" stroke="#c04000" stroke-width="1.15"/><path d="M95.7 473.3h1.2M107.1 473.3h1.2M102 467.0v1.2M102 478.40000000000003v1.2" stroke="#c04000" stroke-width="1"/>
<circle cx="135.5" cy="487" r="5.1" fill="none" stroke="#c04000" stroke-width="1.15"/><path d="M129.2 487h1.2M140.6 487h1.2M135.5 480.7v1.2M135.5 492.1v1.2" stroke="#c04000" stroke-width="1"/>
<circle cx="176.3" cy="490.5" r="5.1" fill="none" stroke="#c04000" stroke-width="1.15"/><path d="M170.0 490.5h1.2M181.4 490.5h1.2M176.3 484.2v1.2M176.3 495.6v1.2" stroke="#c04000" stroke-width="1"/>
<circle cx="209.5" cy="484.2" r="5.1" fill="none" stroke="#c04000" stroke-width="1.15"/><path d="M203.2 484.2h1.2M214.6 484.2h1.2M209.5 477.9v1.2M209.5 489.3v1.2" stroke="#c04000" stroke-width="1"/>
<circle cx="213.4" cy="493.3" r="5.1" fill="none" stroke="#c04000" stroke-width="1.15"/><path d="M207.1 493.3h1.2M218.5 493.3h1.2M213.4 487.0v1.2M213.4 498.40000000000003v1.2" stroke="#c04000" stroke-width="1"/>
<circle cx="244.8" cy="493.3" r="5.1" fill="none" stroke="#c04000" stroke-width="1.15"/><path d="M238.5 493.3h1.2M249.9 493.3h1.2M244.8 487.0v1.2M244.8 498.40000000000003v1.2" stroke="#c04000" stroke-width="1"/>
<circle cx="250.3" cy="492.2" r="5.1" fill="none" stroke="#c04000" stroke-width="1.15"/><path d="M244.0 492.2h1.2M255.4 492.2h1.2M250.3 485.9v1.2M250.3 497.3v1.2" stroke="#c04000" stroke-width="1"/>
<circle cx="282.2" cy="483.1" r="5.1" fill="none" stroke="#c04000" stroke-width="1.15"/><path d="M275.9 483.1h1.2M287.3 483.1h1.2M282.2 476.8v1.2M282.2 488.20000000000005v1.2" stroke="#c04000" stroke-width="1"/>
<circle cx="287.3" cy="491.5" r="5.1" fill="none" stroke="#c04000" stroke-width="1.15"/><path d="M281.0 491.5h1.2M292.40000000000003 491.5h1.2M287.3 485.2v1.2M287.3 496.6v1.2" stroke="#c04000" stroke-width="1"/>
<circle cx="319" cy="491" r="5.1" fill="none" stroke="#c04000" stroke-width="1.15"/><path d="M312.7 491h1.2M324.1 491h1.2M319 484.7v1.2M319 496.1v1.2" stroke="#c04000" stroke-width="1"/>
<circle cx="323.7" cy="493.3" r="5.1" fill="none" stroke="#c04000" stroke-width="1.15"/><path d="M317.4 493.3h1.2M328.8 493.3h1.2M323.7 487.0v1.2M323.7 498.40000000000003v1.2" stroke="#c04000" stroke-width="1"/>
<circle cx="355.9" cy="484.4" r="5.1" fill="none" stroke="#c04000" stroke-width="1.15"/><path d="M349.59999999999997 484.4h1.2M361.0 484.4h1.2M355.9 478.09999999999997v1.2M355.9 489.5v1.2" stroke="#c04000" stroke-width="1"/>
<circle cx="360.6" cy="486.3" r="5.1" fill="none" stroke="#c04000" stroke-width="1.15"/><path d="M354.3 486.3h1.2M365.70000000000005 486.3h1.2M360.6 480.0v1.2M360.6 491.40000000000003v1.2" stroke="#c04000" stroke-width="1"/>
<circle cx="393" cy="493.3" r="5.1" fill="none" stroke="#c04000" stroke-width="1.15"/><path d="M386.7 493.3h1.2M398.1 493.3h1.2M393 487.0v1.2M393 498.40000000000003v1.2" stroke="#c04000" stroke-width="1"/>
<circle cx="397.5" cy="492.5" r="5.1" fill="none" stroke="#c04000" stroke-width="1.15"/><path d="M391.2 492.5h1.2M402.6 492.5h1.2M397.5 486.2v1.2M397.5 497.6v1.2" stroke="#c04000" stroke-width="1"/>
<circle cx="430.1" cy="491.5" r="5.1" fill="none" stroke="#c04000" stroke-width="1.15"/><path d="M423.8 491.5h1.2M435.20000000000005 491.5h1.2M430.1 485.2v1.2M430.1 496.6v1.2" stroke="#c04000" stroke-width="1"/>
<circle cx="434.5" cy="482.4" r="5.1" fill="none" stroke="#c04000" stroke-width="1.15"/><path d="M428.2 482.4h1.2M439.6 482.4h1.2M434.5 476.09999999999997v1.2M434.5 487.5v1.2" stroke="#c04000" stroke-width="1"/>
<circle cx="467.4" cy="487.4" r="5.1" fill="none" stroke="#c04000" stroke-width="1.15"/><path d="M461.09999999999997 487.4h1.2M472.5 487.4h1.2M467.4 481.09999999999997v1.2M467.4 492.5v1.2" stroke="#c04000" stroke-width="1"/>
<circle cx="471.5" cy="476.4" r="5.1" fill="none" stroke="#c04000" stroke-width="1.15"/><path d="M465.2 476.4h1.2M476.6 476.4h1.2M471.5 470.09999999999997v1.2M471.5 481.5v1.2" stroke="#c04000" stroke-width="1"/>
<circle cx="504.1" cy="480.5" r="5.1" fill="none" stroke="#c04000" stroke-width="1.15"/><path d="M497.8 480.5h1.2M509.20000000000005 480.5h1.2M504.1 474.2v1.2M504.1 485.6v1.2" stroke="#c04000" stroke-width="1"/>
<circle cx="508.5" cy="480.5" r="5.1" fill="none" stroke="#c04000" stroke-width="1.15"/><path d="M502.2 480.5h1.2M513.6 480.5h1.2M508.5 474.2v1.2M508.5 485.6v1.2" stroke="#c04000" stroke-width="1"/>
<circle cx="540.2" cy="469.3" r="5.1" fill="none" stroke="#c04000" stroke-width="1.15"/><path d="M533.9000000000001 469.3h1.2M545.3000000000001 469.3h1.2M540.2 463.0v1.2M540.2 474.40000000000003v1.2" stroke="#c04000" stroke-width="1"/>
<circle cx="545.7" cy="474.2" r="5.1" fill="none" stroke="#c04000" stroke-width="1.15"/><path d="M539.4000000000001 474.2h1.2M550.8000000000001 474.2h1.2M545.7 467.9v1.2M545.7 479.3v1.2" stroke="#c04000" stroke-width="1"/>
<circle cx="577" cy="466.3" r="5.1" fill="none" stroke="#c04000" stroke-width="1.15"/><path d="M570.7 466.3h1.2M582.1 466.3h1.2M577 460.0v1.2M577 471.40000000000003v1.2" stroke="#c04000" stroke-width="1"/>
<circle cx="582.5" cy="465.3" r="5.1" fill="none" stroke="#c04000" stroke-width="1.15"/><path d="M576.2 465.3h1.2M587.6 465.3h1.2M582.5 459.0v1.2M582.5 470.40000000000003v1.2" stroke="#c04000" stroke-width="1"/>
<circle cx="614.2" cy="465" r="5.1" fill="none" stroke="#c04000" stroke-width="1.15"/><path d="M607.9000000000001 465h1.2M619.3000000000001 465h1.2M614.2 458.7v1.2M614.2 470.1v1.2" stroke="#c04000" stroke-width="1"/>
<circle cx="618.3" cy="468.3" r="5.1" fill="none" stroke="#c04000" stroke-width="1.15"/><path d="M612.0 468.3h1.2M623.4 468.3h1.2M618.3 462.0v1.2M618.3 473.40000000000003v1.2" stroke="#c04000" stroke-width="1"/>
<circle cx="651.3" cy="467.5" r="5.1" fill="none" stroke="#c04000" stroke-width="1.15"/><path d="M645.0 467.5h1.2M656.4 467.5h1.2M651.3 461.2v1.2M651.3 472.6v1.2" stroke="#c04000" stroke-width="1"/>
<circle cx="655.3" cy="456.2" r="5.1" fill="none" stroke="#c04000" stroke-width="1.15"/><path d="M649.0 456.2h1.2M660.4 456.2h1.2M655.3 449.9v1.2M655.3 461.3v1.2" stroke="#c04000" stroke-width="1"/>
<circle cx="688.3" cy="472.5" r="5.1" fill="none" stroke="#c04000" stroke-width="1.15"/><path d="M682.0 472.5h1.2M693.4 472.5h1.2M688.3 466.2v1.2M688.3 477.6v1.2" stroke="#c04000" stroke-width="1"/>
<circle cx="692.5" cy="447.2" r="5.1" fill="none" stroke="#c04000" stroke-width="1.15"/><path d="M686.2 447.2h1.2M697.6 447.2h1.2M692.5 440.9v1.2M692.5 452.3v1.2" stroke="#c04000" stroke-width="1"/>
<circle cx="725.5" cy="446.4" r="5.1" fill="none" stroke="#c04000" stroke-width="1.15"/><path d="M719.2 446.4h1.2M730.6 446.4h1.2M725.5 440.09999999999997v1.2M725.5 451.5v1.2" stroke="#c04000" stroke-width="1"/>
<circle cx="729.2" cy="468.2" r="5.1" fill="none" stroke="#c04000" stroke-width="1.15"/><path d="M722.9000000000001 468.2h1.2M734.3000000000001 468.2h1.2M729.2 461.9v1.2M729.2 473.3v1.2" stroke="#c04000" stroke-width="1"/>
<circle cx="762.3" cy="407.6" r="5.1" fill="none" stroke="#c04000" stroke-width="1.15"/><path d="M756.0 407.6h1.2M767.4 407.6h1.2M762.3 401.3v1.2M762.3 412.70000000000005v1.2" stroke="#c04000" stroke-width="1"/>
<circle cx="766.3" cy="435.6" r="5.1" fill="none" stroke="#c04000" stroke-width="1.15"/><path d="M760.0 435.6h1.2M771.4 435.6h1.2M766.3 429.3v1.2M766.3 440.70000000000005v1.2" stroke="#c04000" stroke-width="1"/>
<circle cx="799.1" cy="437.1" r="5.1" fill="none" stroke="#c04000" stroke-width="1.15"/><path d="M792.8000000000001 437.1h1.2M804.2 437.1h1.2M799.1 430.8v1.2M799.1 442.20000000000005v1.2" stroke="#c04000" stroke-width="1"/>
<circle cx="803.4" cy="439.3" r="5.1" fill="none" stroke="#c04000" stroke-width="1.15"/><path d="M797.1 439.3h1.2M808.5 439.3h1.2M803.4 433.0v1.2M803.4 444.40000000000003v1.2" stroke="#c04000" stroke-width="1"/>
<circle cx="835.4" cy="437.1" r="5.1" fill="none" stroke="#c04000" stroke-width="1.15"/><path d="M829.1 437.1h1.2M840.5 437.1h1.2M835.4 430.8v1.2M835.4 442.20000000000005v1.2" stroke="#c04000" stroke-width="1"/>
<circle cx="840.5" cy="376.4" r="5.1" fill="none" stroke="#c04000" stroke-width="1.15"/><path d="M834.2 376.4h1.2M845.6 376.4h1.2M840.5 370.09999999999997v1.2M840.5 381.5v1.2" stroke="#c04000" stroke-width="1"/>
<circle cx="872.4" cy="433.6" r="5.1" fill="none" stroke="#c04000" stroke-width="1.15"/><path d="M866.1 433.6h1.2M877.5 433.6h1.2M872.4 427.3v1.2M872.4 438.70000000000005v1.2" stroke="#c04000" stroke-width="1"/>
<circle cx="877.3" cy="462.4" r="5.1" fill="none" stroke="#c04000" stroke-width="1.15"/><path d="M871.0 462.4h1.2M882.4 462.4h1.2M877.3 456.09999999999997v1.2M877.3 467.5v1.2" stroke="#c04000" stroke-width="1"/>
<circle cx="909.4" cy="458.1" r="5.1" fill="none" stroke="#c04000" stroke-width="1.15"/><path d="M903.1 458.1h1.2M914.5 458.1h1.2M909.4 451.8v1.2M909.4 463.20000000000005v1.2" stroke="#c04000" stroke-width="1"/>
<circle cx="913.1" cy="466.1" r="5.1" fill="none" stroke="#c04000" stroke-width="1.15"/><path d="M906.8000000000001 466.1h1.2M918.2 466.1h1.2M913.1 459.8v1.2M913.1 471.20000000000005v1.2" stroke="#c04000" stroke-width="1"/>
<circle cx="946.3" cy="469.4" r="5.1" fill="none" stroke="#c04000" stroke-width="1.15"/><path d="M940.0 469.4h1.2M951.4 469.4h1.2M946.3 463.09999999999997v1.2M946.3 474.5v1.2" stroke="#c04000" stroke-width="1"/>
<circle cx="950.4" cy="424.3" r="5.1" fill="none" stroke="#c04000" stroke-width="1.15"/><path d="M944.1 424.3h1.2M955.5 424.3h1.2M950.4 418.0v1.2M950.4 429.40000000000003v1.2" stroke="#c04000" stroke-width="1"/>
<circle cx="983.5" cy="468.3" r="5.1" fill="none" stroke="#c04000" stroke-width="1.15"/><path d="M977.2 468.3h1.2M988.6 468.3h1.2M983.5 462.0v1.2M983.5 473.40000000000003v1.2" stroke="#c04000" stroke-width="1"/>
<circle cx="102.6" cy="519.2" r="5.9" fill="#c8c800"/>
<circle cx="135.3" cy="519.2" r="5.9" fill="#c8c800"/>
<circle cx="176.4" cy="519.2" r="5.9" fill="#c8c800"/>
<rect x="203.8" y="513.4" width="15.2" height="11.8" rx="4.5" ry="4.5" fill="#c8c800"/>
<rect x="240.7" y="513.4" width="15.2" height="11.8" rx="4.5" ry="4.5" fill="#c8c800"/>
<rect x="277.6" y="513.4" width="15.2" height="11.8" rx="4.5" ry="4.5" fill="#c8c800"/>
<rect x="314.4" y="513.4" width="15.2" height="11.8" rx="4.5" ry="4.5" fill="#c8c800"/>
<rect x="351.3" y="513.4" width="15.2" height="11.8" rx="4.5" ry="4.5" fill="#c8c800"/>
<rect x="388.2" y="513.4" width="15.2" height="11.8" rx="4.5" ry="4.5" fill="#c8c800"/>
<rect x="425.1" y="513.4" width="15.2" height="11.8" rx="4.5" ry="4.5" fill="#c8c800"/>
<rect x="461.9" y="513.4" width="15.2" height="11.8" rx="4.5" ry="4.5" fill="#c8c800"/>
<rect x="498.8" y="513.4" width="15.2" height="11.8" rx="4.5" ry="4.5" fill="#c8c800"/>
<rect x="535.7" y="513.4" width="15.2" height="11.8" rx="4.5" ry="4.5" fill="#c8c800"/>
<rect x="572.6" y="513.4" width="15.2" height="11.8" rx="4.5" ry="4.5" fill="#c8c800"/>
<rect x="609.4" y="513.4" width="15.2" height="11.8" rx="4.5" ry="4.5" fill="#c8c800"/>
<rect x="646.3" y="513.4" width="15.2" height="11.8" rx="4.5" ry="4.5" fill="#c8c800"/>
<rect x="683.2" y="513.4" width="15.2" height="11.8" rx="4.5" ry="4.5" fill="#c8c800"/>
<rect x="720.1" y="513.4" width="15.2" height="11.8" rx="4.5" ry="4.5" fill="#c8c800"/>
<rect x="756.9" y="513.4" width="15.2" height="11.8" rx="4.5" ry="4.5" fill="#c8c800"/>
<rect x="793.8" y="513.4" width="15.2" height="11.8" rx="4.5" ry="4.5" fill="#c8c800"/>
<rect x="830.7" y="513.4" width="15.2" height="11.8" rx="4.5" ry="4.5" fill="#c8c800"/>
<rect x="867.6" y="513.4" width="15.2" height="11.8" rx="4.5" ry="4.5" fill="#c8c800"/>
<rect x="904.4" y="513.4" width="15.2" height="11.8" rx="4.5" ry="4.5" fill="#c8c800"/>
<rect x="941.3" y="513.4" width="15.2" height="11.8" rx="4.5" ry="4.5" fill="#c8c800"/>
<circle cx="983.3" cy="519.2" r="5.9" fill="#c8c800"/>
<rect x="628" y="466" width="13" height="13" fill="#00eeee"/>
<path d="M705.5 454.5L713.3 442L721 454.5Z" fill="none" stroke="#4169e1" stroke-width="1.2"/>
<path d="M169.5 411H181.5M175.5 405V417" stroke="#ffc020" stroke-width="1.2" fill="none"/>
<rect x="169.5" y="416.5" width="12" height="12" fill="none" stroke="#c000ff" stroke-width="1.2"/>
<path d="M167.5 454.5L175.5 442.5L183.5 454.5Z" fill="none" stroke="#4169e1" stroke-width="1.2"/>
<rect x="169" y="466" width="13" height="13" fill="#00eeee"/>
<path d="M908 92.5H965" stroke="#ff0000" stroke-width="1.2"/>
<path d="M908 111.5H965" stroke="#00c000" stroke-width="1.2"/>
<path d="M908 130.5H965" stroke="#0080ff" stroke-width="1.2"/>
<rect x="930.5" y="143.5" width="12" height="12" fill="none" stroke="#c000ff" stroke-width="1.2"/>
<rect x="930" y="162" width="13" height="13" fill="#00eeee"/>
<circle cx="936.5" cy="187.5" r="5.1" fill="none" stroke="#c04000" stroke-width="1.15"/><path d="M930.2 187.5h1.2M941.6 187.5h1.2M936.5 181.2v1.2M936.5 192.6v1.2" stroke="#c04000" stroke-width="1"/>
<circle cx="936.5" cy="206.5" r="6" fill="#c8c800"/>
<path d="M928.5 229.5L936.5 217.5L944.5 229.5Z" fill="none" stroke="#4169e1" stroke-width="1.2"/>
<path d="M930.5 244.5H942.5M936.5 238.5V250.5" stroke="#ffc020" stroke-width="1.2" fill="none"/>
<path d="M101.5 77.5H986.5V519.5H101.5ZM101.5 519.5h6M986.5 519.5h-6M101.5 411.5h6M986.5 411.5h-6M101.5 304.5h6M986.5 304.5h-6M101.5 196.5h6M986.5 196.5h-6M101.5 88.5h6M986.5 88.5h-6M101.5 77.5v6M138.5 77.5v3M175.5 77.5v6M212.5 77.5v3M248.5 77.5v6M285.5 77.5v3M322.5 77.5v6M359.5 77.5v3M396.5 77.5v6M433.5 77.5v3M470.5 77.5v6M507.5 77.5v3M544.5 77.5v6M580.5 77.5v3M617.5 77.5v6M654.5 77.5v3M691.5 77.5v6M728.5 77.5v3M765.5 77.5v6M802.5 77.5v3M838.5 77.5v6M875.5 77.5v3M912.5 77.5v6M949.5 77.5v3M986.5 77.5v6" fill="none" stroke="#000" stroke-width="1.2"/>
<g style="opacity:0.999"><text transform="scale(1.06 1)" x="242.30 251.93 256.13 269.92 282.32 291.26 301.60 311.24 330.49 339.95 349.25 358.83 364.94 370.16 375.20 384.78 395.39 399.29 410.22 422.67 432.96 437.43 446.44 456.75 471.84 481.48 485.66 495.27 509.54 518.98 528.59 542.83 551.34 561.08 567.20 576.64 582.16 586.67 600.96 610.03 623.56 628.56 640.21 654.79 668.83 677.44 692.31 702.65 711.75 722.11 735.45 741.19 750.29 760.65 774.67" y="52.00">pi3Oct05near/farICMP/TCPpingandcurltimes[Nomsmt1AM-2AM]</text>
<text transform="scale(1.06 1)" x="130.17 141.29 146.10 155.99 165.33 175.32 186.11 200.64 210.51 220.84 229.93 240.29 257.61 267.94 277.39 286.96 295.66 305.54 311.66 315.85 325.45 335.48 346.23 351.57 365.83 375.46 384.55 394.91 412.69 422.56 432.00 441.58 450.15 457.18 468.43 478.61 484.11 493.57 503.02 517.47 529.95 535.88 545.32 559.77 563.80 573.40 579.03 589.78 595.11 609.37 618.46 628.82 646.60 656.47 665.92 675.49 685.63 696.75 707.70 713.21 717.40 727.00 736.43 745.99 751.94 766.03 774.37 783.80 793.39 802.85 812.12 821.06 826.59 830.77 840.37 854.82 859.02 863.20 872.66 881.71 890.42" y="570.00">&lt;-STARTat2AMYday,rightto12AMTday-&gt;,thenwrapleftto1AMTday&lt;-[ignoreconnectinglines]</text>
<text transform="rotate(-90)" x="-320.19" y="17" textLength="42.66" lengthAdjust="spacingAndGlyphs">msec</text>
<text transform="scale(1.06 1)" x="43.32 52.92 62.53 72.14" y="92.00">2000</text>
<text transform="scale(1.06 1)" x="43.67 53.17 62.68 72.18" y="199.75">1500</text>
<text transform="scale(1.06 1)" x="43.67 53.17 62.68 72.18" y="307.50">1000</text>
<text transform="scale(1.06 1)" x="52.89 62.51 72.13" y="415.25">500</text>
<text transform="scale(1.06 1)" x="72.45" y="523.00">0</text>
<text transform="scale(1.06 1)" x="72.55 82.33 92.08 97.29 107.07" y="542.00">00:00</text>
<text transform="scale(1.06 1)" x="142.13 151.91 161.65 166.87 176.65" y="542.00">02:00</text>
<text transform="scale(1.06 1)" x="211.70 221.48 231.23 236.44 246.22" y="542.00">04:00</text>
<text transform="scale(1.06 1)" x="281.28 291.06 300.81 306.02 315.80" y="542.00">06:00</text>
<text transform="scale(1.06 1)" x="350.85 360.63 370.38 375.59 385.37" y="542.00">08:00</text>
<text transform="scale(1.06 1)" x="419.81 429.74 439.61 444.95 454.88" y="542.00">10:00</text>
<text transform="scale(1.06 1)" x="489.38 499.32 509.19 514.52 524.46" y="542.00">12:00</text>
<text transform="scale(1.06 1)" x="558.96 568.90 578.76 584.10 594.04" y="542.00">14:00</text>
<text transform="scale(1.06 1)" x="628.53 638.47 648.34 653.67 663.61" y="542.00">16:00</text>
<text transform="scale(1.06 1)" x="698.11 708.05 717.92 723.25 733.19" y="542.00">18:00</text>
<text transform="scale(1.06 1)" x="768.20 778.01 787.78 793.01 802.81" y="542.00">20:00</text>
<text transform="scale(1.06 1)" x="837.78 847.59 857.35 862.58 872.39" y="542.00">22:00</text>
<text transform="scale(1.06 1)" x="907.46 917.24 926.98 932.20 941.98" y="542.00">00:00</text>
<text transform="scale(1.06 1)" x="117.67 127.15 136.47 146.05 156.68 160.60 171.54 184.01 199.13 208.62 218.12 222.15 231.75 240.19 253.07 257.72 268.07 277.72 281.91 291.54 301.29 307.26 316.34 324.65 334.28 338.91 344.18 354.75 364.40 373.91 378.88 388.54 398.04 403.01 412.52 417.49 427.15 436.80 451.26 460.71 470.17 481.34 497.35 511.83 526.30 535.95 540.14 549.77 559.41 564.83 579.31 583.50 592.87 598.34 603.82 610.87" y="99.20">nearICMPdelays-Ypingresult-72.31.7.173hop#41ping/min---&gt;</text>
<text transform="scale(1.06 1)" x="117.83 126.70 136.87 151.76 161.30 165.39 174.86 189.09 198.42 207.82 211.74 221.20 229.51 242.20 246.74 256.32 266.12 270.49 284.62 294.41 299.63 308.02 317.50 327.04 331.12 340.60 349.85 359.59 369.17 378.47 387.97 397.47 406.97 415.95 431.08 440.42 449.67 455.06 460.45 467.36" y="116.30">TCPpingdelays-YTimetcpping-Top100Web---&gt;</text>
<text transform="scale(1.06 1)" x="118.19 127.59 136.85 146.25 160.30 164.15 174.99 187.37 202.37 211.77 221.21 225.19 234.71 243.09 255.86 260.45 269.85 281.23 290.37 299.05 303.37 313.62 317.76 327.30 335.95 346.44 351.03 356.34 365.11 374.97 379.41 393.62 402.63 410.62 416.05 421.48 428.46" y="134.20">deepICMPdelays-YCustPingSiteTimes---&gt;</text>
<text transform="scale(1.06 1)" x="118.12 126.63 136.36 142.48 151.92 157.26 166.84 172.94 182.41 192.31 202.63 212.10 221.59 225.61 235.20 248.98 257.83 261.85 276.15 288.54 300.93 313.15 318.10 327.54 336.81 346.26 355.89 359.93 369.27 374.03 382.37 392.13 411.35 417.61 431.89 441.47 455.13 464.35 477.30 486.77 490.98 494.99 504.47 516.68 526.15 535.73" y="152.20">curltargetdelayviawww.google.com(max4sallowed)</text>
<text transform="scale(1.06 1)" x="118.32 127.79 137.08 146.55 156.20 160.26 169.62 174.40 182.76 192.55 211.53 223.06 234.01 249.38 259.02 268.50 278.12 284.37 298.49 304.03 308.56 322.88 337.34 346.21 350.25 364.56 374.23 383.89 393.41 398.39 408.05 417.71 427.23 432.21 441.87 451.53 461.05 466.03 475.69 485.36" y="170.20">google.comDNSquerytimevia192.168.254.254</text>
<text transform="scale(1.06 1)" x="117.08 125.97 135.04 143.79 148.81 159.58 168.88 178.77 184.31 194.27 203.94 213.61 223.28 232.68 238.44 248.11 257.50 263.26 272.93 287.43 297.10 306.76 311.89 321.56 331.22 336.35 346.02" y="187.30">LastBoot:2022-10-0101:17:22</text>
<text transform="scale(1.06 1)" x="118.07 127.97 138.33 147.99 157.65 167.03 174.09 190.05 195.14 206.84 215.57 224.61 233.35 237.64 248.57 263.90 273.38 282.70 292.29 302.92 306.84 317.78 330.26 341.88 352.65 361.68 372.01 387.13 396.78 400.98 410.60 425.19 430.24 439.72 443.94 453.38 458.90 463.11 472.74 482.19 491.77 497.74 512.07 521.19 531.57 545.61" y="205.30">at450-&gt;-OFFLINEnearICMP+TCPpingfail[ignore2AM]</text>
<text transform="scale(1.06 1)" x="118.07 127.95 138.29 147.93 157.57 166.95 173.99 189.56 198.57 208.88 223.98 233.62 237.80 247.42 261.98 267.02 276.49 280.70 284.75 294.22 308.69 321.04 330.67 334.88 338.93 353.04 362.48 372.11 376.32 380.50 389.97 404.67 410.19 414.38 423.99 433.43 443.00 448.96 463.26 472.36 482.72 496.74" y="222.30">at220-&gt;TCPpingfailedwhileonline[ignore2AM]</text>
<text transform="scale(1.06 1)" x="118.08 127.99 138.38 148.05 157.73 167.13 174.20 190.46 199.97 209.33 218.83 233.28 239.07 247.61 256.85 265.60 270.97 280.77 295.11 304.74 310.83 321.33 325.26 336.22 348.72 364.30 369.85 374.39 388.73 398.06 407.53 417.60 422.74 436.31 441.84 446.06 455.71 465.18 474.78 480.77 495.12 504.25 514.66 528.72" y="239.80">at320-&gt;deep(customer)ICMPtimeouts[ignore2AM]</text>
<text transform="scale(1.06 1)" x="113.02 121.75 127.11 136.69 143.23 153.58 163.23 172.89 182.27 189.31 204.60 214.59 224.63 235.17 244.78 254.41 269.45 273.36 284.30 296.77 311.88 321.52 325.72 335.34 350.21 355.75 360.27 374.58 383.88 393.33 403.38 408.49 421.62 431.27 435.46 445.08 459.65 465.60 475.49 480.86 494.99 504.88 515.24 529.70 539.34 543.53 553.15 562.38 570.70 576.11 590.59 594.78" y="258.30">start500-&gt;EXCESSICMPpingtimeoutspingrateat6pings/min</text>
<text transform="scale(1.06 1)" x="158.21 169.53 178.24 187.85 194.40 199.95 203.97 212.34 221.83 231.30 236.84 240.86 249.44 263.15 269.13 278.62 288.39 294.37 303.46 311.63 321.12 331.18 336.31 349.46 359.11 363.31 372.95 387.85 393.39 397.92 412.25 421.58 431.04 441.10 446.23 459.39 463.59 478.07 492.87 507.36 511.57" y="275.50">#verticaltickrepresentspingtimeoutsin1min</text>
<text transform="scale(1.06 1)" x="644.33 649.92 660.29 669.94 674.15 683.79 693.55 699.53 708.62 716.94 726.58 731.22 736.61 742.01 747.67 756.96 762.80 774.30 783.54 791.87 796.07 805.71 820.20 829.86 834.98" y="95.90">&quot;Ypingresult.txt&quot;using1:2</text>
<text transform="scale(1.06 1)" x="626.59 632.16 641.87 651.78 656.29 670.59 680.49 685.82 694.34 703.96 713.59 717.78 727.39 736.88 742.26 747.91 757.17 763.00 774.47 783.68 791.99 796.18 805.79 820.24 829.89 834.99" y="114.90">&quot;YTimetcpping.txt&quot;using1:2</text>
<text transform="scale(1.06 1)" x="580.73 586.28 595.72 607.14 616.32 625.03 629.37 639.65 643.82 653.40 662.09 672.61 677.22 682.56 691.38 701.26 705.74 720.01 729.05 737.20 742.56 748.18 757.43 763.24 774.66 783.84 792.14 796.31 805.89 820.30 829.92 835.00" y="133.90">&quot;YCustPingSiteTimes.txt&quot;using1:2</text>
<text transform="scale(1.06 1)" x="631.95 637.47 647.58 657.10 662.41 667.60 671.79 675.93 685.33 694.88 700.79 709.80 718.03 727.62 732.21 737.55 742.90 748.50 757.72 763.50 774.88 784.03 792.31 796.45 806.01 820.36 829.96 835.01" y="152.90">&quot;Yofflineresult.txt&quot;using1:2</text>
<text transform="scale(1.06 1)" x="620.74 626.31 637.08 642.40 650.92 660.36 669.93 675.27 679.45 688.17 694.13 703.41 711.76 721.32 727.43 736.91 742.29 747.94 757.20 763.03 774.49 783.69 792.01 796.19 805.80 820.25 829.89 834.99" y="171.90">&quot;Ytcpoff_record.txt&quot;using1:2</text>
<text transform="scale(1.06 1)" x="606.59 612.18 622.55 632.02 641.31 650.78 660.44 664.50 673.81 682.34 692.10 698.23 702.87 708.41 712.94 727.27 736.63 742.02 747.69 756.97 762.82 774.31 783.54 791.88 796.08 805.72 820.20 829.86 834.99" y="190.90">&quot;Ygooglecurltime.txt&quot;using1:2</text>
<text transform="scale(1.06 1)" x="579.24 584.83 595.20 604.68 613.98 623.46 633.11 637.18 646.49 655.03 664.80 670.94 675.15 684.79 694.03 702.78 708.33 712.86 727.20 736.56 741.96 747.63 756.92 762.77 774.27 783.51 791.84 796.05 805.69 820.19 829.85 834.98" y="209.90">&quot;Ygooglecurldnstime.txt&quot;using1:2</text>
<text transform="scale(1.06 1)" x="593.28 598.81 608.23 619.63 628.80 637.50 641.83 652.10 656.26 665.83 674.78 684.65 689.11 703.35 712.61 722.01 732.01 737.37 742.72 748.33 757.56 763.36 774.77 783.93 792.22 796.38 805.95 820.33 829.94 835.01" y="228.90">&quot;YCustPingTimeout.txt&quot;using1:2</text>
<text transform="scale(1.06 1)" x="623.67 629.26 639.17 649.92 660.23 669.89 674.09 683.74 693.50 699.48 708.58 716.90 726.55 731.18 736.58 741.98 747.64 756.93 762.78 774.28 783.52 791.85 796.06 805.70 820.19 829.86 834.98" y="247.90">&quot;YHPpingresult.txt&quot;using1:2</text>
<text transform="scale(1.06 1)" x="175.93 181.95 191.66 201.38 211.03 216.58 228.65 237.56 247.10 256.75 262.92 272.61 276.84 286.53 300.45 310.40 314.98 329.37 338.73 348.24 358.34 363.50 376.45 381.96 387.47 392.98 400.08" y="408.40">(500)HyperpingTimeouts----&gt;</text>
<text transform="scale(1.06 1)" x="175.91 181.83 191.42 201.01 210.57 215.82 227.45 236.12 245.10 253.79 258.03 268.88 283.22 293.06 302.37 312.58 321.49 336.49 341.93 347.37 352.81 358.25 365.24" y="426.15">(450)OFFLINESTATE-----&gt;</text>
<text transform="scale(1.06 1)" x="175.92 181.90 191.56 201.21 210.82 215.89 227.19 236.67 246.14 255.42 265.31 270.85 275.95 285.42 294.92 307.15 316.76 322.69 331.36 340.02 348.57 352.63 361.32 374.74 380.21 385.69 391.17 398.22" y="443.90">(400)Reboot/powercycle?----&gt;</text>
<text transform="scale(1.06 1)" x="175.93 181.93 191.61 201.30 210.94 216.60 228.50 237.87 247.38 261.57 265.51 276.50 289.01 303.55 313.48 318.04 332.40 341.74 351.22 361.30 366.44 379.36 384.86 390.35 395.85 402.93" y="461.65">(320)DeepICMPTimeouts----&gt;</text>
<text transform="scale(1.06 1)" x="175.93 181.92 191.60 201.28 210.91 216.26 225.32 235.67 250.82 260.49 264.70 274.36 288.23 298.16 302.70 317.05 326.39 335.87 345.94 351.08 363.98 369.48 374.97 380.46 385.95 393.02" y="479.40">(220)TCPpingTimeouts-----&gt;</text></g>
</svg></body></html>
